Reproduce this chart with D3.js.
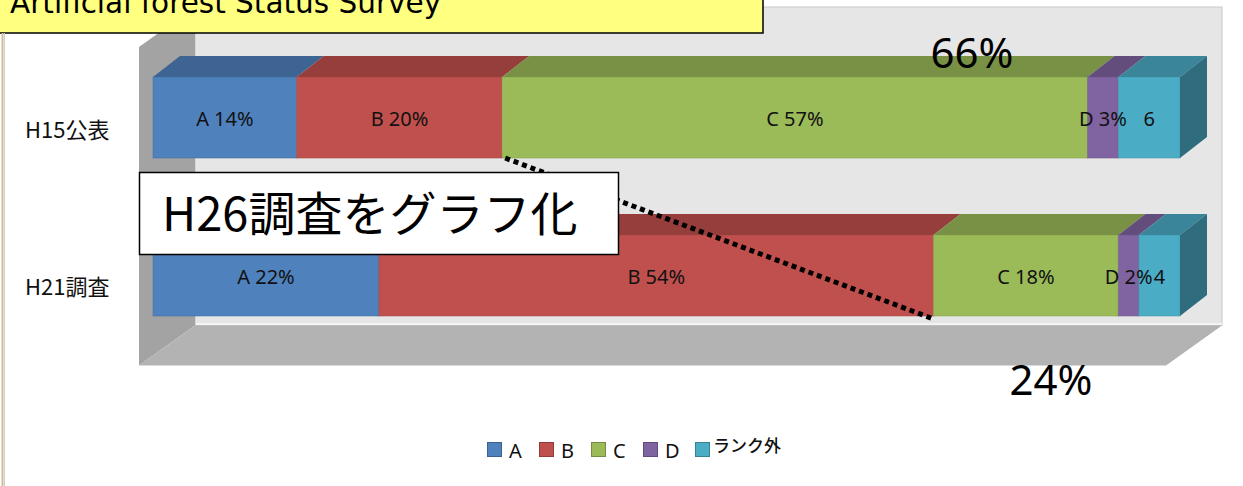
<!DOCTYPE html>
<html>
<head>
<meta charset="utf-8">
<script src="https://cdn.jsdelivr.net/npm/d3@7"></script>
<style>
  body { margin: 0; background: #fff; overflow: hidden; }
  svg { display: block; }
</style>
</head>
<body>
<script>
// chart data
const categories = ["H15公表", "H21調査"];
const seriesNames = ["A", "B", "C", "D", "ランク外"];
const valuesH15 = [14, 20, 57, 3, 6];
const valuesH21 = [22, 54, 18, 2, 4];
const calloutTop = "66%";
const calloutBottom = "24%";
const titleText = "Artificial forest Status Survey";
const boxText = "H26調査をグラフ化";

const width = 1243, height = 486;

const rows = categories.map((c, i) => {
  const vals = i === 0 ? valuesH15 : valuesH21;
  const r = { cat: c };
  seriesNames.forEach((s, j) => r[s] = vals[j]);
  return r;
});

const color = d3.scaleOrdinal()
  .domain(seriesNames)
  .range(["#4f81bd", "#c0504d", "#9bbb59", "#8064a2", "#4bacc6"]);

// bar front plane
const x = d3.scaleLinear().domain([0, 100]).range([153, 1180]);
const y = d3.scaleBand().domain(categories)
  .range([37.5, 355.5]).paddingInner(0.487).paddingOuter(0.25);
const bw = y.bandwidth();

// 3d offsets
const barDx = 27, barDy = -21;       // bar depth
const backDx = 42, backDy = -30;     // front plane -> back wall
const frontDx = -14, frontDy = 10;   // front plane -> floor front edge
const wallTop = 7;

const svg = d3.select("body").append("svg")
  .attr("width", width)
  .attr("height", height);

const floorY = y.range()[1];
const xb0 = x(0) + backDx, xb1 = x(100) + backDx;
const xf0 = x(0) + frontDx, xf1 = x(100) + frontDx;

// back wall
svg.append("rect")
  .attr("x", xb0).attr("y", wallTop)
  .attr("width", xb1 - xb0).attr("height", floorY + backDy - wallTop)
  .attr("fill", "#e6e6e6")
  .attr("stroke", "#c8c8c8").attr("stroke-width", 1);

// left wall
svg.append("polygon")
  .attr("points", [
    [xf0, wallTop + (frontDy - backDy)], [xb0, wallTop],
    [xb0, floorY + backDy], [xf0, floorY + frontDy]
  ].join(" "))
  .attr("fill", "#a3a3a3");

// floor
svg.append("polygon")
  .attr("points", [
    [xb0, floorY + backDy], [xb1, floorY + backDy],
    [xf1, floorY + frontDy], [xf0, floorY + frontDy]
  ].join(" "))
  .attr("fill", "#b3b3b3");
svg.append("line")
  .attr("x1", xb0 + 1).attr("x2", xb1)
  .attr("y1", floorY + backDy - 1.5).attr("y2", floorY + backDy - 1.5)
  .attr("stroke", "#f4f4f4").attr("stroke-width", 2);

// bars
const stack = d3.stack().keys(seriesNames)(rows);

const bars = svg.append("g");
categories.forEach(cat => {
  const g = bars.append("g");
  stack.forEach(layer => {
    const d = layer.find(e => e.data.cat === cat);
    const x0 = x(d[0]), x1 = x(d[1]), yt = y(cat);
    const c = color(layer.key);
    g.append("rect")
      .attr("x", x0).attr("y", yt)
      .attr("width", x1 - x0).attr("height", bw)
      .attr("fill", c)
      .attr("stroke", d3.color(c).darker(0.4)).attr("stroke-opacity", 0.5)
      .attr("stroke-width", 1);
    g.append("polygon")
      .attr("points", [[x0, yt], [x0 + barDx, yt + barDy], [x1 + barDx, yt + barDy], [x1, yt]].join(" "))
      .attr("fill", d3.color(c).darker(0.72));
    if (layer.key === seriesNames[seriesNames.length - 1]) {
      g.append("polygon")
        .attr("points", [[x1, yt], [x1 + barDx, yt + barDy], [x1 + barDx, yt + bw + barDy], [x1, yt + bw]].join(" "))
        .attr("fill", d3.color(c).darker(1.3));
    }
  });
});

// data labels
const labelText = (s, v) => s === "ランク外" ? String(v) : `${s} ${v}%`;
stack.forEach(layer => {
  layer.forEach(d => {
    svg.append("text")
      .attr("x", (x(d[0]) + x(d[1])) / 2)
      .attr("y", y(d.data.cat) + bw / 2 + 1)
      .attr("text-anchor", "middle")
      .attr("dominant-baseline", "central")
      .style("font-family", "'Noto Sans', sans-serif")
      .style("font-size", "20px")
      .attr("fill", "#111")
      .text(labelText(layer.key, d.data[layer.key]));
  });
});

// category labels
categories.forEach(cat => {
  svg.append("text")
    .attr("x", 25)
    .attr("y", y(cat) + bw / 2 + 10)
    .attr("dominant-baseline", "central")
    .style("font-family", "'Noto Sans CJK JP', sans-serif")
    .style("font-size", "22px")
    .attr("fill", "#111")
    .text(cat);
});

// dotted connector between the A+B edges
const abTop = valuesH15[0] + valuesH15[1];
const abBottom = valuesH21[0] + valuesH21[1];
svg.append("line")
  .attr("x1", x(abTop) + 3).attr("y1", y(categories[0]) + bw)
  .attr("x2", x(abBottom)).attr("y2", y(categories[1]) + bw + 3)
  .attr("stroke", "#000").attr("stroke-width", 5)
  .attr("stroke-dasharray", "5,4");

// callouts
svg.append("text")
  .attr("x", 972).attr("y", 68)
  .attr("text-anchor", "middle")
  .style("font-family", "'Noto Sans', sans-serif")
  .style("font-size", "42px")
  .text(calloutTop);
svg.append("text")
  .attr("x", 1051).attr("y", 395)
  .attr("text-anchor", "middle")
  .style("font-family", "'Noto Sans', sans-serif")
  .style("font-size", "42px")
  .text(calloutBottom);

// H26 box
svg.append("rect")
  .attr("x", 139.5).attr("y", 172.5)
  .attr("width", 479).attr("height", 82)
  .attr("fill", "#fff").attr("stroke", "#000").attr("stroke-width", 1.5);
svg.append("text")
  .attr("x", 162).attr("y", 231)
  .style("font-family", "'Noto Sans CJK JP', sans-serif")
  .style("font-size", "47px")
  .text(boxText);

// title box
svg.append("rect")
  .attr("x", -2).attr("y", -2)
  .attr("width", 765).attr("height", 35)
  .attr("fill", "#ffff80").attr("stroke", "#000").attr("stroke-width", 1.5);
svg.append("text")
  .attr("x", 10).attr("y", 13)
  .style("font-family", "'DejaVu Sans', sans-serif")
  .style("font-size", "29.5px")
  .text(titleText);

// legend
const lx = d3.scalePoint().domain(seriesNames).range([487, 695]);
const legend = svg.append("g")
  .selectAll("g")
  .data(seriesNames)
  .join("g")
  .attr("transform", d => `translate(${lx(d)},442)`);
legend.append("rect")
  .attr("x", 0.5).attr("y", 0.5)
  .attr("width", 14).attr("height", 14)
  .attr("fill", d => color(d))
  .attr("stroke", d => d3.color(color(d)).darker(0.8)).attr("stroke-width", 1);
legend.append("text")
  .attr("x", d => d === "ランク外" ? 18 : 22)
  .attr("y", d => d === "ランク外" ? 10 : 16)
  .style("font-family", d => d === "ランク外" ? "'Noto Sans CJK JP', sans-serif" : "'Noto Sans', sans-serif")
  .style("font-size", d => d === "ランク外" ? "17px" : "20px")
  .style("font-weight", d => d === "ランク外" ? "500" : "400")
  .attr("fill", "#111")
  .text(d => d);

// frame line at left edge
svg.append("line")
  .attr("x1", 2.5).attr("x2", 2.5).attr("y1", 33).attr("y2", height)
  .attr("stroke", "#cdbd92").attr("stroke-width", 2);
svg.append("line")
  .attr("x1", 4.5).attr("x2", 4.5).attr("y1", 33).attr("y2", height)
  .attr("stroke", "#d0d0d0").attr("stroke-width", 1);
</script>
</body>
</html>
